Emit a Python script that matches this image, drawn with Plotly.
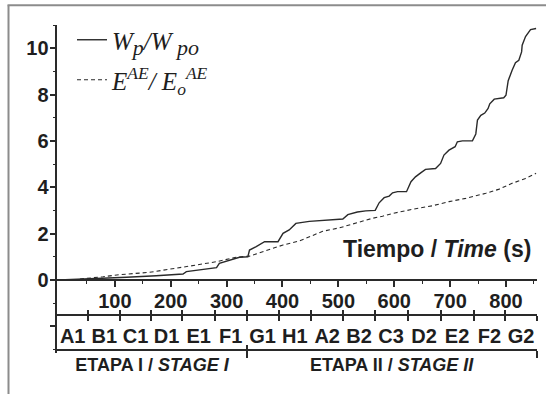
import plotly.graph_objects as go

# ---------------- data ----------------
t_w = [0, 20, 60, 103, 121, 174, 222, 228, 282, 287, 305, 323, 338, 341, 353, 368, 392, 401,
       412, 424, 448, 480, 508, 517, 534, 549, 566, 573, 582, 591, 597, 606, 622, 630, 638,
       648, 656, 674, 683, 689, 698, 709, 713, 722, 740, 746, 749, 755, 762, 768, 771, 779,
       796, 800, 804, 811, 817, 823, 828, 829, 835, 844, 854]
w_ratio = [0, 0.02, 0.04, 0.07, 0.12, 0.18, 0.26, 0.36, 0.53, 0.72, 0.86, 0.98, 1.0, 1.29, 1.44,
           1.65, 1.65, 2.01, 2.16, 2.44, 2.53, 2.6, 2.63, 2.82, 2.93, 2.98, 3.0, 3.33, 3.55, 3.62,
           3.76, 3.81, 3.81, 4.24, 4.45, 4.63, 4.77, 4.81, 5.03, 5.39, 5.6, 5.75, 5.96, 6.0, 6.0,
           6.3, 6.9, 7.1, 7.2, 7.4, 7.6, 7.8, 7.86, 7.97, 8.6, 9.05, 9.37, 9.48, 9.84, 10.13,
           10.5, 10.8, 10.85]

t_e = [0, 32, 79, 109, 162, 198, 234, 282, 317, 341, 365, 401, 430, 448, 466, 472, 502, 525,
       549, 561, 579, 597, 633, 668, 698, 728, 764, 788, 811, 835, 854]
e_ratio = [0, 0.03, 0.14, 0.23, 0.33, 0.48, 0.6, 0.79, 0.98, 1.03, 1.22, 1.51, 1.68, 1.86, 2.01,
           2.1, 2.25, 2.42, 2.59, 2.66, 2.75, 2.87, 3.05, 3.2, 3.38, 3.52, 3.74, 3.92, 4.17,
           4.38, 4.6]

categories = ["A1", "B1", "C1", "D1", "E1", "F1", "G1", "H1", "A2", "B2", "C3", "D2", "E2", "F2", "G2"]
cat_bounds = [-3, 52, 110, 164, 221, 279, 336, 393, 451, 509, 565, 624, 683, 742, 799, 855]

stages = ["ETAPA I / <i>STAGE I</i>", "ETAPA II / <i>STAGE II</i>"]
stage_bounds = [-3, 336, 855]

time_ticks = [100, 200, 300, 400, 500, 600, 700, 800]
time_minor = [50, 150, 250, 350, 450, 550, 650, 750, 850]
y_ticks = [-2, 0, 2, 4, 6, 8, 10]
y_ticktext = ["", "0", "2", "4", "6", "8", "10"]
y_minor = [-3, -1, 1, 3, 5, 7, 9, 11]

# ---------------- geometry helpers ----------------
W, H = 546, 394
def px(x):
    return x / W
def py(y):
    return 1 - y / H

XR = [-3, 855]
YR = [-3.15, 11.0]
XDOM = [px(57.3), px(536.7)]
YDOM = [py(353), py(25)]

INK = "#1e1e1e"
LINEC = "#2a2a2a"
SANS = "Liberation Sans, Arial, sans-serif"
SERIF = "Liberation Serif, Times New Roman, serif"

SUBSTYLE = '<span style="font-size:22px">'
name_w = f"<i>W<sub>{SUBSTYLE}p</span></sub>/W<sub>{SUBSTYLE} po</span></sub></i>"
name_e = "<i>E<sup>AE</sup>/ E<sub>o</sub><sup>AE</sup></i>"

fig = go.Figure()

fig.add_trace(go.Scatter(
    x=t_w, y=w_ratio, mode="lines", name=name_w,
    line=dict(color=LINEC, width=1.4), legend="legend"))
fig.add_trace(go.Scatter(
    x=t_e, y=e_ratio, mode="lines", name=name_e,
    line=dict(color=LINEC, width=1.1, dash="4px,3px"), legend="legend2"))

# invisible traces to register overlay axes
for k in range(2, 8):
    fig.add_trace(go.Scatter(x=[XR[0], XR[1]], y=[None, None], xaxis=f"x{k}", yaxis="y",
                             mode="lines", showlegend=False, hoverinfo="skip"))

cat_mid = [(cat_bounds[i] + cat_bounds[i + 1]) / 2 for i in range(len(categories))]
stage_mid = [(stage_bounds[i] + stage_bounds[i + 1]) / 2 for i in range(len(stages))]

tickfont = dict(family=SANS, size=20, color=INK, weight="bold")

def overlay_axis(pos, **kw):
    d = dict(overlaying="x", anchor="free", position=pos, range=XR, domain=XDOM,
             showgrid=False, zeroline=False, fixedrange=True)
    d.update(kw)
    return d

CAT_Y = py(315)
STG_Y = py(350)

fig.update_layout(
    width=W, height=H,
    margin=dict(l=0, r=0, t=0, b=0),
    paper_bgcolor="white", plot_bgcolor="white",
    showlegend=True,
    xaxis=dict(
        domain=XDOM, range=XR, anchor="free", position=py(280),
        showline=True, linecolor=LINEC, linewidth=1.5,
        tickvals=time_ticks, ticks="outside", ticklen=6, tickwidth=1.5, tickcolor=LINEC,
        minor=dict(tickvals=time_minor, ticks="outside", ticklen=3, tickwidth=1.3, tickcolor=LINEC),
        tickfont=tickfont, showgrid=False, zeroline=False, ticklabelstandoff=-3,
    ),
    yaxis=dict(
        domain=YDOM, range=YR, anchor="x",
        showline=True, linecolor=LINEC, linewidth=1.5,
        tickvals=y_ticks, ticktext=y_ticktext, ticks="outside", ticklen=6, tickwidth=1.5,
        tickcolor=LINEC,
        minor=dict(tickvals=y_minor, ticks="outside", ticklen=3, tickwidth=1.3, tickcolor=LINEC),
        tickfont=tickfont, showgrid=False, zeroline=False, ticklabelstandoff=-3,
    ),
    # category axis: line + labels
    xaxis2=overlay_axis(CAT_Y, showline=True, linecolor=LINEC, linewidth=1.5,
                        tickvals=cat_mid, ticktext=categories, ticks="", tickfont=tickfont,
                        ticklabelstandoff=3),
    xaxis3=overlay_axis(CAT_Y, showline=False, tickvals=cat_bounds[1:], ticks="outside",
                        ticklen=5, tickwidth=1.5, tickcolor=LINEC, showticklabels=False),
    xaxis4=overlay_axis(CAT_Y, showline=False, tickvals=cat_bounds[1:], ticks="inside",
                        ticklen=5, tickwidth=1.5, tickcolor=LINEC, showticklabels=False),
    # stage axis
    xaxis5=overlay_axis(STG_Y, showline=True, linecolor=LINEC, linewidth=1.5,
                        tickvals=stage_mid, ticktext=stages, ticks="",
                        tickfont=dict(family=SANS, size=18, color=INK, weight="bold"),
                        ticklabelstandoff=-1),
    xaxis6=overlay_axis(STG_Y, showline=False, tickvals=stage_bounds[1:], ticks="outside",
                        ticklen=7, tickwidth=1.5, tickcolor=LINEC, showticklabels=False),
    xaxis7=overlay_axis(STG_Y, showline=False, tickvals=stage_bounds[1:], ticks="inside",
                        ticklen=5, tickwidth=1.5, tickcolor=LINEC, showticklabels=False),
    legend=dict(x=px(72), y=py(17), xanchor="left", yanchor="top", bgcolor="rgba(0,0,0,0)",
                font=dict(family=SERIF, size=25, color=INK), itemwidth=30),
    legend2=dict(x=px(72), y=py(57), xanchor="left", yanchor="top", bgcolor="rgba(0,0,0,0)",
                 font=dict(family=SERIF, size=25, color=INK), itemwidth=30),
    annotations=[dict(
        text="Tiempo / <i>Time</i> (s)", x=px(533), y=py(249), xref="paper", yref="paper",
        xanchor="right", yanchor="middle", showarrow=False,
        font=dict(family=SANS, size=23, color=INK, weight="bold"))],
    shapes=[
        dict(type="line", xref="paper", yref="paper", x0=px(8.5), x1=px(8.5), y0=0, y1=py(5.3),
             line=dict(color="#8c8c8c", width=2)),
        dict(type="line", xref="paper", yref="paper", x0=px(7.5), x1=1, y0=py(5.3), y1=py(5.3),
             line=dict(color="#8c8c8c", width=2)),
    ],
)

fig.write_html("out.html")
